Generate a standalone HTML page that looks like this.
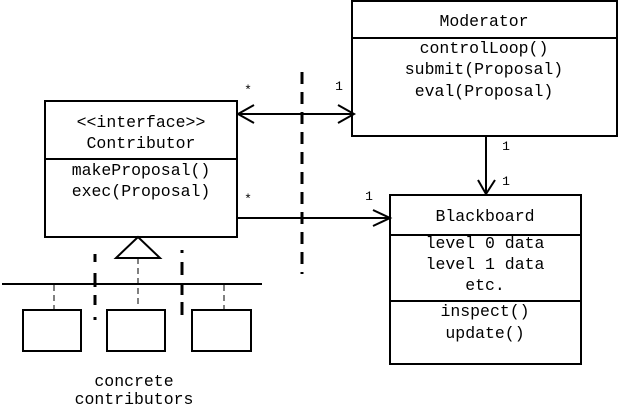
<!DOCTYPE html>
<html><head><meta charset="utf-8"><style>
html,body{margin:0;padding:0;background:#fff;}
svg{display:block;}
text{font-family:"Liberation Mono",monospace;font-size:16.5px;fill:#000;text-anchor:middle;}
.s{font-size:13px;}
</style></head><body>
<svg width="619" height="418" viewBox="0 0 619 418" xmlns="http://www.w3.org/2000/svg">
<g fill="none" stroke="#000" stroke-width="2">
<rect x="45" y="101" width="192" height="136"/>
<line x1="44" y1="159" x2="237" y2="159"/>
<rect x="352" y="1" width="265" height="135"/>
<line x1="352" y1="38" x2="617" y2="38"/>
<rect x="390" y="195" width="191" height="169"/>
<line x1="390" y1="235" x2="581" y2="235"/>
<line x1="390" y1="301" x2="581" y2="301"/>
<line x1="238" y1="114" x2="354" y2="114"/>
<polyline points="254,105 238,114 254,123"/>
<polyline points="338,105 354,114 338,123"/>
<line x1="237" y1="218" x2="390" y2="218"/>
<polyline points="373,210 390,218 373,226"/>
<line x1="486" y1="136" x2="486" y2="194"/>
<polyline points="478,180 486,194 495,180"/>
<polygon points="138,237 116,258 160,258"/>
<line x1="2" y1="284" x2="262" y2="284"/>
<rect x="23" y="310" width="58" height="41"/>
<rect x="107" y="310" width="58" height="41"/>
<rect x="192" y="310" width="59" height="41"/>
</g>
<g stroke="#000" stroke-width="1" stroke-dasharray="6,4" fill="none">
<line x1="138" y1="258" x2="138" y2="305"/>
<line x1="54" y1="285" x2="54" y2="310"/>
<line x1="224" y1="285" x2="224" y2="310"/>
</g>
<g stroke="#000" stroke-width="3" stroke-dasharray="12,8" fill="none">
<line x1="302" y1="72" x2="302" y2="274"/>
</g>
<g stroke="#000" stroke-width="3" fill="none">
<line x1="95" y1="254" x2="95" y2="262"/>
<line x1="95" y1="273" x2="95" y2="287"/>
<line x1="95" y1="295" x2="95" y2="305"/>
<line x1="95" y1="317" x2="95" y2="320"/>
<line x1="182" y1="250" x2="182" y2="253"/>
<line x1="182" y1="262" x2="182" y2="275"/>
<line x1="182" y1="285" x2="182" y2="295"/>
<line x1="182" y1="302" x2="182" y2="315"/>
</g>
<text x="141" y="127">&lt;&lt;interface&gt;&gt;</text>
<text x="141" y="148">Contributor</text>
<text x="141" y="175">makeProposal()</text>
<text x="141" y="196">exec(Proposal)</text>
<text x="484" y="26">Moderator</text>
<text x="484" y="53">controlLoop()</text>
<text x="484" y="74">submit(Proposal)</text>
<text x="484" y="96">eval(Proposal)</text>
<text x="485" y="221">Blackboard</text>
<text x="485" y="248">level 0 data</text>
<text x="485" y="269">level 1 data</text>
<text x="485" y="290">etc.</text>
<text x="485" y="316">inspect()</text>
<text x="485" y="338">update()</text>
<text x="134" y="386">concrete</text>
<text x="134" y="404">contributors</text>
<text class="s" x="248" y="94">*</text>
<text class="s" x="339" y="90">1</text>
<text class="s" x="248" y="203">*</text>
<text class="s" x="369" y="200">1</text>
<text class="s" x="506" y="150">1</text>
<text class="s" x="506" y="185">1</text>
</svg>
</body></html>
